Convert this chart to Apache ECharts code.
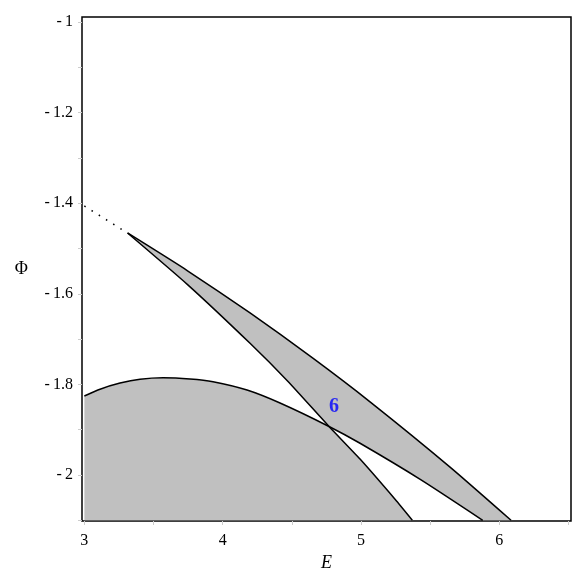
<!DOCTYPE html>
<html>
<head>
<meta charset="utf-8">
<script src="https://cdn.jsdelivr.net/npm/echarts@6/dist/echarts.min.js"></script>
<style>
    html, body { margin: 0; padding: 0; background: #fff; }
    #chart { width: 581px; height: 581px; }
</style>
</head>
<body>
<div id="chart"></div>
<script>
// curve data, [E, Phi]
const dottedPart = [[3.000, -1.4062], [3.3124, -1.4658]];
const curveA = [[3.3124, -1.4658], [3.7462, -1.5797], [4.1981, -1.7093], [4.4693, -1.7925], [4.7693, -1.8929], [4.9935, -1.9649], [5.2466, -2.0536], [5.3716, -2.100]];
const curveB = [[3.3124, -1.4658], [3.7462, -1.5492], [4.1981, -1.6424], [4.6500, -1.7417], [5.0658, -1.8386], [5.6443, -1.9826], [6.0853, -2.100]];
const curveC = [[3.000, -1.8256], [3.1135, -1.8106], [3.2581, -1.7971], [3.4027, -1.7885], [3.5690, -1.7852], [3.7643, -1.7879], [3.9306, -1.7940], [4.1764, -1.8124], [4.4150, -1.8411], [4.7693, -1.8929], [4.9935, -1.9300], [5.4346, -2.0108], [5.8807, -2.100]];
const crossing = [4.7693, -1.8929];
const regionLabel = [[4.8055, -1.8506, '6']];

// axis ticks / labels
const xLabels = [3, 4, 5, 6];
const xTicks = [3, 3.5, 4, 4.5, 5, 5.5, 6, 6.5];
const yLabels = [-2, -1.8, -1.6, -1.4, -1.2, -1];
const yTicks = [-2.1, -2, -1.9, -1.8, -1.7, -1.6, -1.5, -1.4, -1.3, -1.2, -1.1, -1];
const yBottom = -2.1;

// split the curves at their crossing point
function idxOf(arr, p) {
    return arr.findIndex(q => q[0] === p[0] && q[1] === p[1]);
}
const iC = idxOf(curveC, crossing);
const iA = idxOf(curveA, crossing);
// lower-left shaded piece: under C, left of A
const polyLeft = curveC.slice(0, iC + 1)
    .concat(curveA.slice(iA + 1))
    .concat([[curveC[0][0], yBottom]]);
// wedge: between A/C and B
const polyWedge = curveB.slice()
    .concat(curveC.slice(iC).reverse())
    .concat(curveA.slice(0, iA).reverse());
const polygons = [polyLeft, polyWedge];

const serif = '"Liberation Serif", "DejaVu Serif", serif';
const fmtNum = v => (v < 0 ? '-\u2009' + String(Math.abs(v)) : String(v));

let myChart = echarts.init(document.getElementById('chart'));
let option = {
    animation: false,
    backgroundColor: '#fff',
    grid: {
        left: 82, right: 10, top: 17, bottom: 60,
        show: true,
        borderColor: '#000',
        borderWidth: 1.5,
        outerBoundsMode: 'none'
    },
    xAxis: {
        type: 'value',
        min: 2.983, max: 6.519,
        name: 'E',
        nameLocation: 'middle',
        nameGap: 33,
        nameTextStyle: { fontFamily: serif, fontStyle: 'italic', fontSize: 18, color: '#000' },
        axisLine: { show: false },
        splitLine: { show: false },
        axisTick: { show: true, length: 4, customValues: xTicks, lineStyle: { color: '#ccc' } },
        axisLabel: { customValues: xLabels, formatter: fmtNum, fontFamily: serif, fontSize: 16, color: '#000', margin: 12 }
    },
    yAxis: {
        type: 'value',
        min: -2.1016, max: -0.989,
        name: 'Φ',
        nameLocation: 'middle',
        nameRotate: 0,
        nameGap: 54,
        nameTextStyle: { fontFamily: serif, fontSize: 18, color: '#000' },
        axisLine: { show: false },
        splitLine: { show: false },
        axisTick: { show: true, length: 4, customValues: yTicks, lineStyle: { color: '#ccc' } },
        axisLabel: { customValues: yLabels, formatter: fmtNum, fontFamily: serif, fontSize: 16, color: '#000', margin: 9 }
    },
    series: [
        {
            // shaded regions
            type: 'custom',
            data: [0, 1],
            z: 1,
            clip: true,
            renderItem: function (params, api) {
                let pts = polygons[params.dataIndex].map(p => api.coord(p));
                return { type: 'polygon', shape: { points: pts }, style: { fill: '#c0c0c0', stroke: null } };
            }
        },
        {
            type: 'line', data: dottedPart, showSymbol: false, z: 3,
            lineStyle: { color: '#000', width: 1.5, type: [1.5, 7] }
        },
        {
            type: 'line', data: curveA, showSymbol: false, smooth: 0.2, z: 3,
            lineStyle: { color: '#000', width: 1.5 }
        },
        {
            type: 'line', data: curveB, showSymbol: false, smooth: 0.2, z: 3,
            lineStyle: { color: '#000', width: 1.5 }
        },
        {
            type: 'line', data: curveC, showSymbol: false, smooth: 0.2, z: 3,
            lineStyle: { color: '#000', width: 1.5 }
        },
        {
            // region number
            type: 'scatter', data: regionLabel, symbolSize: 0, z: 4,
            label: {
                show: true, position: [0, 0], align: 'center', verticalAlign: 'middle',
                formatter: p => p.data[2],
                fontFamily: serif, fontWeight: 'bold', fontSize: 20, color: '#0000ff'
            }
        }
    ]
};
myChart.setOption(option);
</script>
</body>
</html>
